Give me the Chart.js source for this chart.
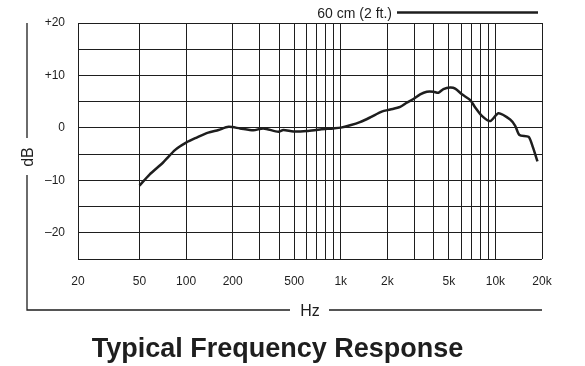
<!DOCTYPE html>
<html>
<head>
<meta charset="utf-8">
<title>Typical Frequency Response</title>
<script src="https://cdn.jsdelivr.net/npm/chart.js@4.4.1/dist/chart.umd.min.js"></script>
<style>
  body { margin: 0; background: #fff; }
  canvas { display: block; }
</style>
</head>
<body>
<canvas id="responseChart" width="585" height="366"></canvas>
<script>
// measured response, 60 cm (2 ft.)
const freqHz = [50, 58, 71, 85, 100, 117, 139, 162, 188, 223, 272, 316, 395, 425, 494, 602, 735, 896, 1000,
  1150, 1330, 1550, 1840, 2090, 2420, 2670, 2950, 3260, 3600, 3980, 4280, 4610, 5090, 5490, 6070, 6870,
  7400, 8170, 9250, 10470, 12450, 13420, 14300, 16360, 17200, 18700];
const responseDb = [-11.0, -8.9, -6.6, -4.2, -2.8, -1.85, -0.9, -0.4, 0.2, -0.1, -0.45, -0.1, -0.75, -0.4, -0.7, -0.6, -0.3, -0.1, 0.05,
  0.5, 1.1, 2.0, 3.1, 3.5, 4.0, 4.8, 5.5, 6.4, 6.9, 6.9, 6.7, 7.4, 7.7, 7.5, 6.4, 5.3,
  3.9, 2.3, 1.3, 2.8, 1.6, 0.4, -1.35, -1.7, -3.1, -6.4];

// grid frequencies and the labelled ones
const xGridValues = [20, 50, 100, 200, 300, 400, 500, 600, 700, 800, 900, 1000,
  2000, 3000, 4000, 5000, 6000, 7000, 8000, 9000, 10000, 20000];
const xTickValues = [20, 50, 100, 200, 500, 1000, 2000, 5000, 10000, 20000];
const xTickLabels = ['20', '50', '100', '200', '500', '1k', '2k', '5k', '10k', '20k'];
const yTickValues = [-20, -10, 0, 10, 20];
const yTickLabels = ['\u201320', '\u201310', '0', '+10', '+20'];

const seriesLabel = '60 cm (2 ft.)';
const chartTitle = 'Typical Frequency Response';

const FONT = '"Liberation Sans", Arial, Helvetica, sans-serif';
const INK = '#1e1e1e';

// frame, axis names, legend and title
const decorations = {
  id: 'decorations',
  afterDraw(chart) {
    const ctx = chart.ctx;
    const area = chart.chartArea;
    ctx.save();
    ctx.strokeStyle = INK;
    ctx.fillStyle = INK;

    // L-shaped frame with gaps for dB / Hz
    ctx.lineWidth = 1.3;
    ctx.beginPath();
    ctx.moveTo(27, area.top);
    ctx.lineTo(27, 138);
    ctx.moveTo(27, 175);
    ctx.lineTo(27, 310);
    ctx.lineTo(290, 310);
    ctx.moveTo(329, 310);
    ctx.lineTo(area.right, 310);
    ctx.stroke();

    ctx.font = '16px ' + FONT;
    ctx.textAlign = 'center';
    ctx.textBaseline = 'alphabetic';
    ctx.fillText('Hz', 310, 316);

    ctx.save();
    ctx.translate(33, 157);
    ctx.rotate(-Math.PI / 2);
    ctx.fillText('dB', 0, 0);
    ctx.restore();

    // legend
    ctx.font = '14px ' + FONT;
    ctx.textAlign = 'right';
    ctx.fillText(seriesLabel, 392, 17.5);
    ctx.lineWidth = 2.5;
    ctx.beginPath();
    ctx.moveTo(397, 12.5);
    ctx.lineTo(538, 12.5);
    ctx.stroke();

    // title
    ctx.font = 'bold 27px ' + FONT;
    ctx.textAlign = 'center';
    ctx.fillText(chartTitle, 277.5, 357);
    ctx.restore();
  }
};

const ctx = document.getElementById('responseChart').getContext('2d');
const responseChart = new Chart(ctx, {
  type: 'line',
  data: {
    datasets: [{
      label: seriesLabel,
      data: freqHz.map((f, i) => ({ x: f, y: responseDb[i] })),
      borderColor: INK,
      borderWidth: 2.5,
      pointRadius: 0,
      tension: 0.25,
      fill: false
    }]
  },
  options: {
    responsive: false,
    animation: false,
    devicePixelRatio: 1,
    layout: {
      padding: { top: 23, right: 43, bottom: 0, left: 0 }
    },
    scales: {
      x: {
        type: 'logarithmic',
        min: 20,
        max: 20000,
        afterBuildTicks: function(scale) {
          scale.ticks = xGridValues.map(v => ({ value: v }));
        },
        afterFit: function(scale) {
          scale.height = 107;
        },
        grid: { color: INK, lineWidth: 1, drawTicks: false },
        border: { display: false },
        ticks: {
          autoSkip: false,
          maxRotation: 0,
          padding: 15,
          color: INK,
          font: { family: FONT, size: 12 },
          callback: function(value) {
            const i = xTickValues.indexOf(value);
            return i >= 0 ? xTickLabels[i] : '';
          }
        }
      },
      y: {
        min: -25,
        max: 20,
        afterFit: function(scale) {
          scale.width = 78;
        },
        grid: { color: INK, lineWidth: 1, drawTicks: false },
        border: { display: false },
        ticks: {
          stepSize: 5,
          padding: 13,
          color: INK,
          font: { family: FONT, size: 12 },
          callback: function(value) {
            const i = yTickValues.indexOf(value);
            return i >= 0 ? yTickLabels[i] : '';
          }
        }
      }
    },
    plugins: {
      legend: { display: false },
      tooltip: { enabled: false }
    }
  },
  plugins: [decorations]
});
</script>
</body>
</html>
